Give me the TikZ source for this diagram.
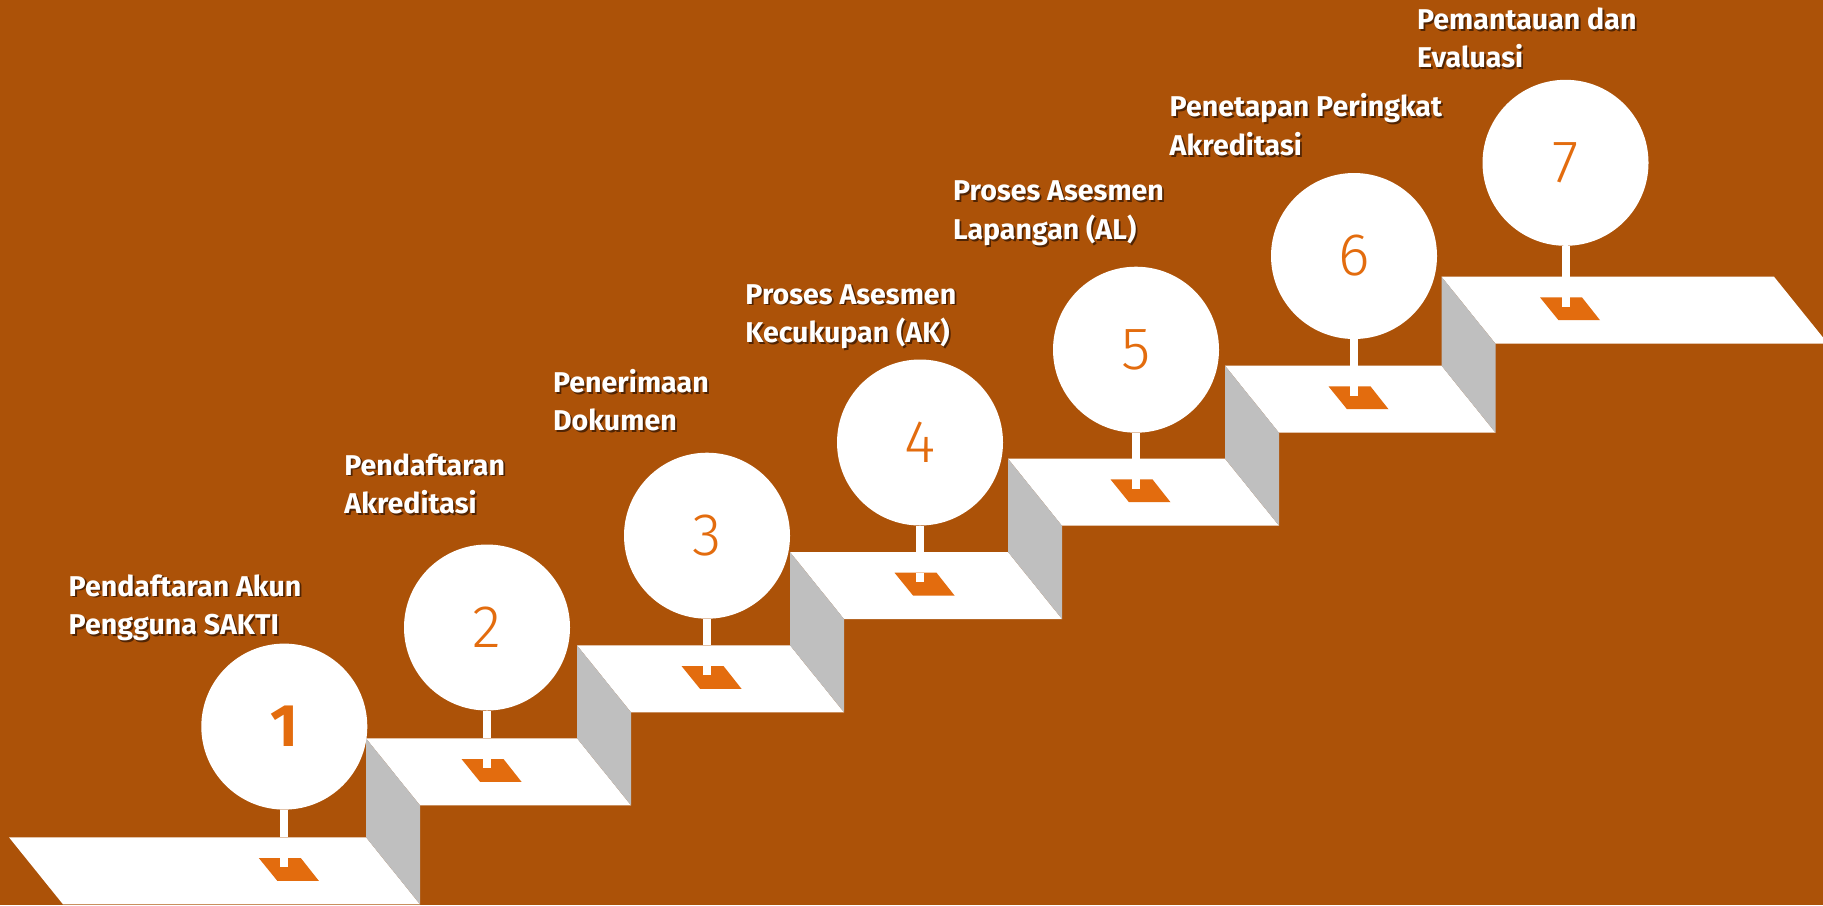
\documentclass[tikz,border=0pt]{standalone}
\usepackage{fontspec}
\setmainfont{Fira Sans}
\newfontfamily\lblfont{Fira Sans}
\newfontfamily\numfont{Fira Sans Light}
\definecolor{bgc}{RGB}{172,82,8}
\definecolor{markc}{RGB}{227,108,14}
\definecolor{riserc}{RGB}{191,191,191}
\definecolor{shadowc}{RGB}{80,36,4}
\newcommand\shtext[1]{\makebox[0pt][l]{\hspace{0.9pt}\raisebox{-0.9pt}{\textcolor{shadowc}{#1}}}#1}
\newcommand\heavynum{\lblfont\bfseries}
\tikzset{
  stepcircle/.style={circle, fill=white, minimum size=83pt, inner sep=0pt, text=markc},
  stem/.style={draw=white, line width=4pt},
  platform/.style={fill=white},
  riser/.style={fill=riserc},
  marker/.style={fill=markc},
  notch/.style={fill=white},
  lbl/.style={anchor=base west, inner sep=0pt, text=white,
    font=\lblfont\bfseries\fontsize{14.3pt}{19pt}\selectfont},
}
\begin{document}
\begin{tikzpicture}[x=0.5pt,y=-0.5pt]
\fill[bgc] (0,0) rectangle (1823,905);
\useasboundingbox (0,0) rectangle (1823,905);
\clip (0,0) rectangle (1823,905);
% platforms
\foreach \L/\R/\py in {9/366/837.3, 366/577/738.3, 577/790/645.3, 790/1008/552,
  1008/1225/458.7, 1225/1441.5/365.7, 1441.5/1774/276.7}
{
  \fill[platform] (\L,\py) -- (\R,\py) -- (\R+54,\py+67) -- (\L+54,\py+67) -- cycle;
}
% risers
\foreach \R/\pa/\pb in {366/837.3/738.3, 577/738.3/645.3, 790/645.3/552,
  1008/552/458.7, 1225/458.7/365.7, 1441.5/365.7/276.7}
{
  \fill[riser] (\R,\pb) -- (\R+54,\pb+67) -- (\R+54,\pa+67) -- (\R,\pa) -- cycle;
}
% markers, circles, stems
\foreach \cx/\cy/\py/\n/\f in {284.3/726.6/837.3/1/\heavynum, 487/627.5/738.3/2/\numfont,
  707/535.7/645.3/3/\numfont, 920/442.5/552/4/\numfont, 1136/349.7/458.7/5/\numfont,
  1354/256/365.7/6/\numfont, 1565.5/162.8/276.7/7/\numfont}
{
  \coordinate (b\n) at (\cx,\py);
  \fill[marker] (\cx-25.5,\py+20.7) -- (\cx+16.5,\py+20.7) -- (\cx+34.5,\py+43.5) -- (\cx-7,\py+43.5) -- cycle;
  \fill[notch] (\cx-4,\py+20.7) rectangle (\cx+4,\py+30);
  \node[stepcircle, font=\f\fontsize{30pt}{30pt}\selectfont] (c\n) at (\cx,\cy) {\n};
  \draw[stem] (c\n.south) -- (b\n);
}
% labels
\foreach \x/\y/\a/\b/\n in {68.3/596/Pendaftaran Akun/Pengguna SAKTI/1,
  344/475/Pendaftaran/Akreditasi/2,
  552.7/392.3/Penerimaan/Dokumen/3,
  745/304/Proses Asesmen/Kecukupan (AK)/4,
  952.7/200.7/Proses Asesmen/Lapangan (AL)/5,
  1169.3/116.7/Penetapan Peringkat/Akreditasi/6,
  1416.7/29.3/Pemantauan dan/Evaluasi/7}
{
  \node[lbl] (t\n a) at (\x,\y) {\shtext{\a}};
  \node[lbl] (t\n b) at (\x,\y+38.5) {\shtext{\b}};
}
\end{tikzpicture}
\end{document}
